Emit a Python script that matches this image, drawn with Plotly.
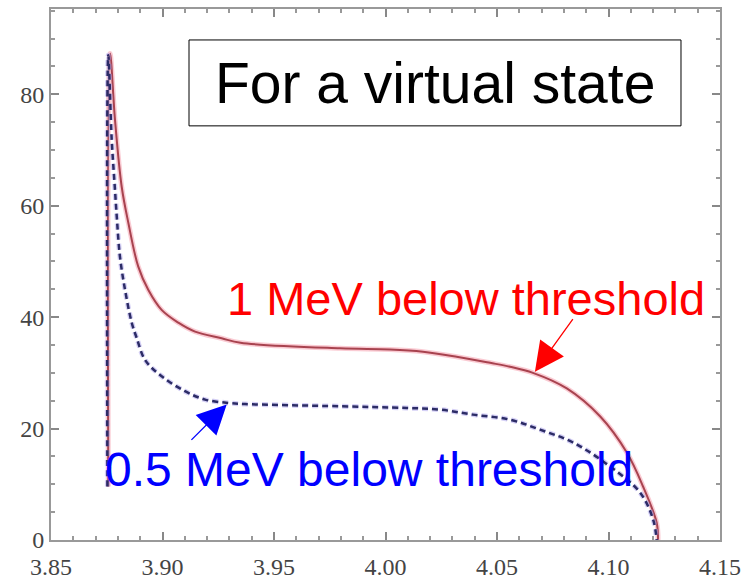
import plotly.graph_objects as go

# ---- data ----
red_x = [3.8757, 3.8765, 3.8787, 3.8817, 3.8847, 3.8891, 3.8936, 3.8996, 3.9071, 3.9146,
         3.9265, 3.9350, 3.9796, 4.0020, 4.0168, 4.0319, 4.0469, 4.0558, 4.0661, 4.0813,
         4.0962, 4.1082, 4.1155, 4.1216, 4.1222]
red_y = [9.6, 87.3, 75.4, 63.4, 56.9, 49.1, 44.9, 41.3, 39.0, 37.4,
         36.2, 35.4, 34.4, 34.2, 33.8, 32.9, 31.8, 31.1, 30.0, 27.2,
         22.2, 15.7, 9.6, 3.1, 0.0]

blue_x = [3.8753, 3.8757, 3.8772, 3.8787, 3.8795, 3.8809, 3.8832, 3.8862, 3.8884, 3.8922,
          3.8996, 3.9101, 3.9191, 3.9295, 3.9370, 3.9796, 4.0095, 4.0244, 4.0392, 4.0558,
          4.0693, 4.0841, 4.1007, 4.1142, 4.1200, 4.1216]
blue_y = [9.6, 87.0, 72.0, 62.8, 58.0, 50.9, 44.9, 39.0, 36.3, 32.3,
          29.4, 26.7, 25.2, 24.6, 24.4, 24.0, 23.7, 23.4, 22.5, 21.6,
          19.8, 17.5, 13.2, 8.5, 3.7, 0.0]

x_ticks = [3.85, 3.90, 3.95, 4.00, 4.05, 4.10, 4.15]
x_tick_text = ["3.85", "3.90", "3.95", "4.00", "4.05", "4.10", "4.15"]
y_ticks = [0, 20, 40, 60, 80]
y_tick_text = ["0", "20", "40", "60", "80"]

title_box_text = "For a virtual state"
red_label = "1 MeV below threshold"
blue_label = "0.5 MeV below threshold"

# arrow tips / tails (data coords)
red_arrow = dict(tip=(4.0670, 30.2), tail=(4.0845, 39.9))
blue_arrow = dict(tip=(3.9288, 24.3), tail=(3.9123, 17.7))

fig = go.Figure()

fig.add_trace(go.Scatter(x=red_x, y=red_y, mode="lines",
                         line=dict(color="rgba(245,160,175,0.55)", width=5, shape="spline", smoothing=1.0),
                         hoverinfo="skip", showlegend=False))
fig.add_trace(go.Scatter(x=red_x, y=red_y, mode="lines",
                         line=dict(color="#a8434f", width=2, shape="spline", smoothing=1.0),
                         showlegend=False))
fig.add_trace(go.Scatter(x=blue_x, y=blue_y, mode="lines",
                         line=dict(color="rgba(170,160,235,0.5)", width=5, dash="6px,4px",
                                   shape="spline", smoothing=1.0),
                         hoverinfo="skip", showlegend=False))
fig.add_trace(go.Scatter(x=blue_x, y=blue_y, mode="lines",
                         line=dict(color="#2c2c66", width=2.5, dash="6px,4px", shape="spline", smoothing=1.0),
                         showlegend=False))

xtickfont = dict(family="Liberation Serif, Times New Roman, serif", size=24, color="#444444")
ytickfont = dict(family="Liberation Serif, Times New Roman, serif", size=24, color="#444444")

fig.update_xaxes(range=[3.85, 4.15], tickvals=x_ticks, ticktext=x_tick_text, automargin=False,
                 ticks="inside", ticklen=8, tickwidth=1.5, tickcolor="#888888",
                 showline=True, linecolor="#999999", linewidth=2, mirror="ticks",
                 showgrid=False, zeroline=False, tickfont=xtickfont, ticklabelstandoff=4,
                 minor=dict(ticks="inside", ticklen=4, dtick=0.01, tickcolor="#999999", showgrid=False))
fig.update_yaxes(range=[0, 95.3], tickvals=y_ticks, ticktext=y_tick_text, automargin=False,
                 ticks="inside", ticklen=8, tickwidth=1.5, tickcolor="#888888",
                 showline=True, linecolor="#999999", linewidth=2, mirror="ticks",
                 showgrid=False, zeroline=False, tickfont=ytickfont,
                 minor=dict(ticks="inside", ticklen=4, dtick=5, tickcolor="#999999", showgrid=False))

# framed title box
fig.add_shape(type="rect", xref="paper", yref="paper", x0=0.2063, x1=0.9417, y0=0.7799, y1=0.9417,
              line=dict(color="black", width=1), fillcolor="white", layer="above")
fig.add_annotation(xref="paper", yref="paper", x=0.574, y=0.861, text=title_box_text,
                   showarrow=False, xanchor="center", yanchor="middle",
                   font=dict(family="Liberation Sans, Arial, sans-serif", size=57, color="black"))

fig.add_annotation(xref="paper", yref="paper", x=0.6196, y=0.4544, text=red_label,
                   showarrow=False, xanchor="center", yanchor="middle",
                   font=dict(family="Liberation Sans, Arial, sans-serif", size=47, color="#ff0000"))
fig.add_annotation(xref="paper", yref="paper", x=0.4753, y=0.1330, text=blue_label,
                   showarrow=False, xanchor="center", yanchor="middle",
                   font=dict(family="Liberation Sans, Arial, sans-serif", size=48, color="#0000ff"))

for arr, col in ((red_arrow, "#ff0000"), (blue_arrow, "#0000ff")):
    fig.add_annotation(x=arr["tip"][0], y=arr["tip"][1], ax=arr["tail"][0], ay=arr["tail"][1],
                       xref="x", yref="y", axref="x", ayref="y", text="",
                       showarrow=True, arrowhead=2, arrowsize=4.5, arrowwidth=1.3, arrowcolor=col)

fig.update_layout(width=748, height=580, margin=dict(l=51, r=28, t=9, b=40, autoexpand=False),
                  paper_bgcolor="white", plot_bgcolor="white", showlegend=False)

fig.write_html("out.html")
